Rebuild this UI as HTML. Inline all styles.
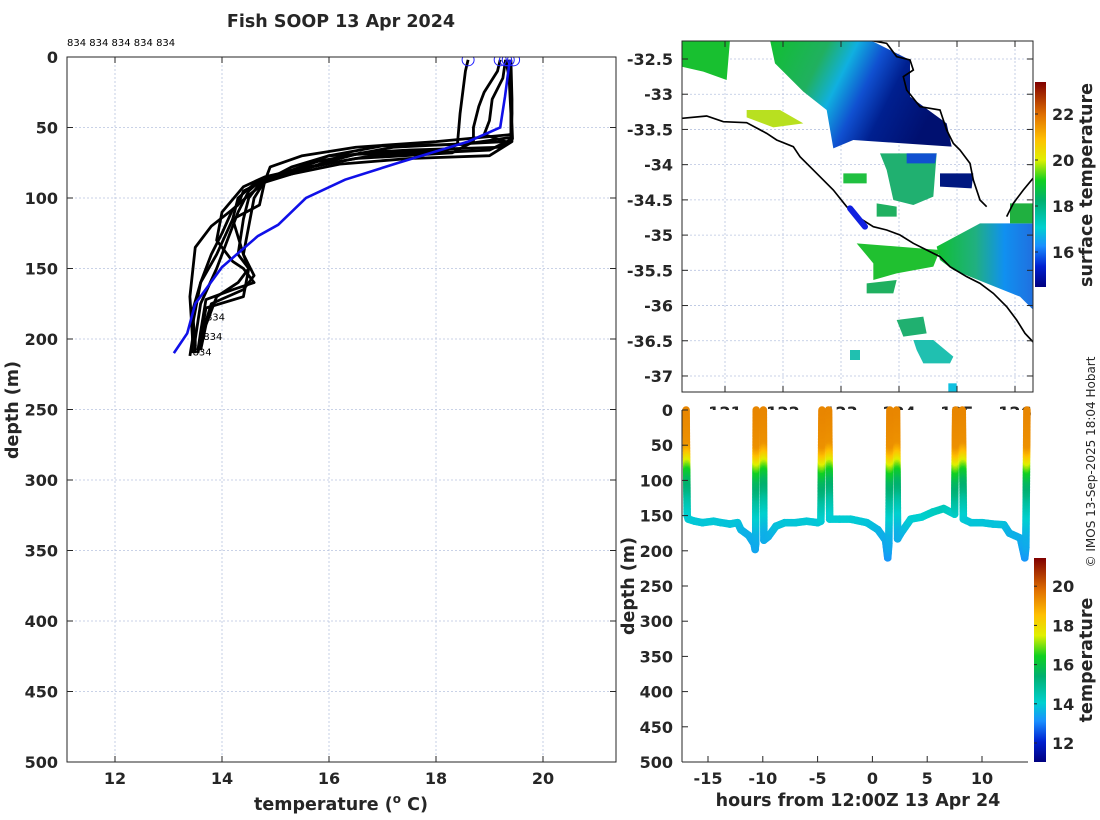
<!DOCTYPE html>
<html><head><meta charset="utf-8"><style>
html,body{margin:0;padding:0;background:#fff;}
svg{display:block;font-family:"DejaVu Sans","Liberation Sans",sans-serif;}
.tk{font-size:16px;font-weight:bold;fill:#262626;}
.ttl{font-size:17.5px;font-weight:bold;fill:#262626;}
.grid{stroke:#b8c4e0;stroke-width:0.8;stroke-dasharray:2,2;}
</style></head><body>
<svg id="fig" width="1100" height="820" viewBox="0 0 1100 820">
<defs>
<linearGradient id="cmap" x1="0" y1="1" x2="0" y2="0">
<stop offset="0" stop-color="#00007f"/><stop offset="0.1" stop-color="#0020d0"/>
<stop offset="0.2" stop-color="#1a8fff"/><stop offset="0.29" stop-color="#00d0d0"/>
<stop offset="0.42" stop-color="#00b070"/><stop offset="0.52" stop-color="#10d020"/>
<stop offset="0.62" stop-color="#e0f000"/><stop offset="0.72" stop-color="#ffc000"/>
<stop offset="0.84" stop-color="#e07000"/><stop offset="1" stop-color="#800000"/>
</linearGradient>
<linearGradient id="sstA" x1="0" y1="0" x2="1" y2="0.3">
<stop offset="0" stop-color="#10c030"/><stop offset="0.3" stop-color="#20b060"/>
<stop offset="0.45" stop-color="#10b0e0"/><stop offset="0.6" stop-color="#1050d0"/>
<stop offset="0.75" stop-color="#002090"/><stop offset="1" stop-color="#001070"/>
</linearGradient>
<linearGradient id="sstB" x1="0" y1="0" x2="1" y2="0">
<stop offset="0" stop-color="#10c030"/><stop offset="0.4" stop-color="#20b080"/>
<stop offset="0.7" stop-color="#1090f0"/><stop offset="1" stop-color="#2070e0"/>
</linearGradient>
<clipPath id="mapclip"><rect x="682" y="41" width="351" height="351"/></clipPath>
<clipPath id="leftclip"><rect x="67" y="57" width="549" height="705"/></clipPath>
</defs>
<rect width="1100" height="820" fill="#fff"/>
<text x="341" y="27" text-anchor="middle" class="ttl">Fish SOOP 13 Apr 2024</text>
<text x="67" y="46" font-size="10" fill="#000">834 834 834 834 834</text>
<g id="left"></g>

<g id="map">
<g id="mapgrid"></g>
<g clip-path="url(#mapclip)">
<g transform="translate(620,30) scale(0.33333)">
<polygon fill="url(#sstA)" points="450,30 750,30 870,90 870,200 980,280 995,350 850,340 700,330 640,355 620,240 550,185 465,100"/>
<polygon fill="#18c030" points="185,30 330,30 320,150 250,125 185,110"/>
<polygon fill="#b8e020" points="380,240 480,240 550,280 460,292 380,262"/>
<polygon fill="#20b070" points="780,370 950,370 940,500 880,525 820,510 800,420"/>
<polygon fill="#1050d0" points="860,370 950,370 945,400 860,400"/>
<polygon fill="#001880" points="960,430 1060,430 1055,475 960,470"/>
<polygon fill="#20c040" points="670,430 740,430 740,460 670,460"/>
<polygon fill="#20b060" points="770,520 830,530 830,560 770,560"/>
<polygon fill="url(#sstB)" points="950,650 1080,580 1240,580 1240,840 1200,800 1100,760 1000,720 960,690"/>
<polygon fill="#20b040" points="1170,520 1240,520 1240,580 1170,580"/>
<polygon fill="#20c030" points="710,640 960,660 940,710 830,730 760,750 760,700"/>
<polygon fill="#20b060" points="740,760 830,750 820,790 740,790"/>
<polygon fill="#20b070" points="830,870 910,860 920,910 850,920"/>
<polygon fill="#20c0b0" points="880,930 940,930 1000,980 990,1000 910,1000 890,960"/>
<polygon fill="#20c0b0" points="690,960 720,960 720,990 690,990"/>
<polygon fill="#10c0e0" points="985,1060 1010,1060 1010,1085 985,1085"/>
<polyline fill="none" stroke="#000" stroke-width="5" points="185,265 260,258 310,275 380,278 440,310 470,330 520,350 540,380 570,410 600,440 640,480 680,530 720,565 760,590 800,600 840,615 880,640 920,660 960,680 990,710 1040,740 1080,760 1120,790 1160,830 1190,870 1215,910 1243,940"/>
<polyline fill="none" stroke="#000" stroke-width="5" points="745,30 800,40 830,80 870,90 880,120 850,140 860,180 900,230 960,240 980,300 1000,340 1020,360 1050,400 1060,450 1080,510 1100,530"/>
<polyline fill="none" stroke="#000" stroke-width="5" points="1160,560 1180,520 1210,480 1243,440"/>
<polyline fill="none" stroke="#1020e0" stroke-width="18" stroke-linecap="round" points="690,535 735,590"/>
</g>
</g>
<rect x="682" y="41" width="351" height="351" fill="none" stroke="#262626" stroke-width="1"/>
</g>
<g id="mapticks"></g>

<g id="bottom"></g>

<rect x="1035" y="82" width="11" height="205" fill="url(#cmap)"/>
<rect x="1034" y="558" width="12" height="204" fill="url(#cmap)"/>
<g id="cbars"></g>
<text transform="translate(1092,185) rotate(-90)" text-anchor="middle" class="ttl" font-size="16">surface temperature</text>
<text transform="translate(1092,660) rotate(-90)" text-anchor="middle" class="ttl" font-size="16">temperature</text>
<text transform="translate(1095,462) rotate(-90)" text-anchor="middle" font-size="12" fill="#262626">© IMOS 13-Sep-2025 18:04 Hobart</text>
</svg>
<script>
const leftXTicks=[12,14,16,18,20];
const leftYTicks=[0,50,100,150,200,250,300,350,400,450,500];
const prof1=[[19.35,2],[19.4,10],[19.42,40],[19.4,58],[19.2,64],[17.5,66],[16.6,68],[15.9,75],[15.3,83],[14.7,88],[14.5,95],[14.3,110],[14.1,130],[13.9,150],[13.6,175],[13.5,200],[13.5,210]];
const prof2=[[18.6,2],[18.55,10],[18.45,40],[18.4,62],[18.2,66],[16.0,70],[15.2,82],[14.6,90],[14.3,100],[14.2,115],[14.4,140],[14.5,150],[14.3,160],[13.9,170],[13.7,190],[13.6,208]];
const prof3=[[19.2,2],[19.15,10],[18.9,25],[18.8,35],[18.7,50],[18.7,60],[18.3,68],[16.5,72],[15.4,80],[14.8,88],[14.6,100],[14.5,120],[14.4,140],[14.6,155],[14.4,165],[13.8,175],[13.6,200],[13.55,210]];
const prof4=[[19.3,2],[19.25,15],[19.05,30],[19.0,45],[18.9,55],[19.3,60],[17.2,64],[15.8,74],[15.0,84],[14.4,95],[14.3,105],[13.8,120],[13.5,135],[13.4,170],[13.45,200],[13.4,212]];
const prof5=[[19.4,2],[19.42,30],[19.41,57],[18.5,62],[17.0,63],[16.0,70],[15.3,78],[14.9,86],[14.5,98],[14.2,108],[14.0,125],[13.8,140],[13.6,160],[13.45,180],[13.5,205]];
const prof6=[[19.38,2],[19.4,30],[19.43,58],[19.0,66],[16.8,70],[15.6,78],[14.8,85],[14.4,92],[14.0,110],[13.9,130],[14.2,145],[14.4,150],[14.6,160],[14.2,165],[13.7,172],[13.6,195],[13.55,208]];
const prof7=[[19.3,2],[19.4,20],[19.42,60],[19.0,70],[17.5,72],[16.2,76],[15.3,83],[14.7,90],[14.5,100],[14.4,115],[14.3,140],[14.5,150],[14.4,170],[13.7,178],[13.6,200]];
const prof8=[[19.35,2],[19.4,40],[19.4,55],[18.0,60],[16.5,64],[15.5,70],[14.9,78],[14.8,88],[14.7,105],[14.2,115],[13.9,140],[13.6,160],[13.45,190],[13.45,210]];
const meanTemp=[19.38,19.29,19.2,18.6,17.3,16.3,15.57,15.05,14.67,14.0,13.5,13.35,13.1];
const meanDepth=[2,28,50,60,75,87,100,119,127,149,175,196,210];
const surfT=[18.6,19.2,19.3,19.35,19.45];
const endLabels=[[13.7,184],[13.65,198],[13.45,209]];
const latTicks=[-32.5,-33,-33.5,-34,-34.5,-35,-35.5,-36,-36.5,-37];
const lonTicks=[121,122,123,124,125,126];
const sstTicks=[16,18,20,22];
const hourTicks=[-15,-10,-5,0,5,10];
const depthTicks=[0,50,100,150,200,250,300,350,400,450,500];
const tempTicks=[12,14,16,18,20];
const trackT=[-17.0,-16.9,-16.8,-16.2,-15.5,-14.5,-13.8,-13.0,-12.3,-12.0,-11.3,-10.8,-10.7,-10.65,-10.6,null,-9.95,-9.9,-9.5,-8.8,-8.0,-7.0,-6.0,-5.0,-4.7,-4.6,null,-4.0,-3.9,-3.0,-2.0,-0.5,0.5,1.2,1.4,1.5,1.6,null,2.2,2.3,2.6,3.5,4.5,5.5,6.5,7.5,7.6,null,8.2,8.3,9.0,10.0,11.0,12.0,12.5,13.5,13.9,14.0,14.1];
const trackD=[0,150,155,158,160,158,160,162,160,170,178,190,198,190,0,null,0,185,180,165,160,160,158,160,158,0,null,0,155,155,155,160,170,185,210,190,0,null,0,183,175,155,152,145,140,148,0,null,0,155,160,160,162,163,175,182,210,195,0];

const NS='http://www.w3.org/2000/svg';
function mk(parent,tag,attrs){const e=document.createElementNS(NS,tag);for(const k in attrs)e.setAttribute(k,attrs[k]);parent.appendChild(e);return e;}
const stops=[[0,[0,0,127]],[0.1,[0,32,208]],[0.2,[26,143,255]],[0.29,[0,208,208]],[0.42,[0,176,112]],[0.52,[16,208,32]],[0.62,[224,240,0]],[0.72,[255,192,0]],[0.84,[224,112,0]],[1,[128,0,0]]];
function cmap(f){f=Math.max(0,Math.min(1,f));for(let i=1;i<stops.length;i++){if(f<=stops[i][0]){const a=stops[i-1],b=stops[i],u=(f-a[0])/(b[0]-a[0]);return 'rgb('+a[1].map((v,j)=>Math.round(v+(b[1][j]-v)*u)).join(',')+')';}}return 'rgb(128,0,0)';}

const L=document.getElementById('left');
const lx=t=>115+(t-12)*53.5, ly=d=>57+d*1.41;
leftXTicks.forEach(t=>{const g=mk(L,'line',{x1:lx(t),x2:lx(t),y1:57,y2:762,class:'grid'});

const tx=mk(L,'text',{x:lx(t),y:784,'text-anchor':'middle',class:'tk'});tx.textContent=t;

mk(L,'line',{x1:lx(t),x2:lx(t),y1:762,y2:756,stroke:'#262626'});mk(L,'line',{x1:lx(t),x2:lx(t),y1:57,y2:63,stroke:'#262626'});});
leftYTicks.forEach(d=>{const g=mk(L,'line',{x1:67,x2:616,y1:ly(d),y2:ly(d),class:'grid'});

const tx=mk(L,'text',{x:58,y:ly(d)+6,'text-anchor':'end',class:'tk'});tx.textContent=d;

mk(L,'line',{x1:67,x2:73,y1:ly(d),y2:ly(d),stroke:'#262626'});mk(L,'line',{x1:616,x2:610,y1:ly(d),y2:ly(d),stroke:'#262626'});});
const PL=mk(L,'g',{'clip-path':'url(#leftclip)'});
[prof1,prof2,prof3,prof4,prof5,prof6,prof7,prof8].forEach((p,i)=>{
const e=mk(PL,'polyline',{points:p.map(q=>lx(q[0])+','+ly(q[1])).join(' '),fill:'none',stroke:'#000','stroke-width':2.8,'stroke-linejoin':'round'});
});
const mline=mk(PL,'polyline',{points:meanTemp.map((t,i)=>lx(t)+','+ly(meanDepth[i])).join(' '),fill:'none',stroke:'#1010e8','stroke-width':2.6});

surfT.forEach(t=>{const c=mk(PL,'circle',{cx:lx(t),cy:ly(2),r:6,fill:'none',stroke:'#2020ff','stroke-width':1});
});
endLabels.forEach(p=>{const tx=mk(L,'text',{x:lx(p[0]),y:ly(p[1])+4,'font-size':10,fill:'#000'});tx.textContent='834';
});
mk(L,'rect',{x:67,y:57,width:549,height:705,fill:'none',stroke:'#262626'});
const xt=mk(L,'text',{x:341,y:810,'text-anchor':'middle',class:'ttl'});xt.innerHTML='temperature (<tspan font-size="12" dy="-7">o</tspan><tspan dy="7"> C)</tspan>';

const yt=mk(L,'text',{transform:'translate(18,410) rotate(-90)','text-anchor':'middle',class:'ttl'});yt.textContent='depth (m)';


const MG=document.getElementById('mapgrid'),MT=document.getElementById('mapticks');
const mx=lo=>725+(lo-121)*58, my=la=>59+(-32.5-la)*70.44;
latTicks.forEach(la=>{mk(MG,'line',{x1:682,x2:1033,y1:my(la),y2:my(la),class:'grid'});
mk(MT,'line',{x1:682,x2:688,y1:my(la),y2:my(la),stroke:'#262626'});mk(MT,'line',{x1:1033,x2:1027,y1:my(la),y2:my(la),stroke:'#262626'});
const tx=mk(MT,'text',{x:673,y:my(la)+6,'text-anchor':'end',class:'tk'});tx.textContent=la;
});
lonTicks.forEach(lo=>{mk(MG,'line',{x1:mx(lo),x2:mx(lo),y1:41,y2:392,class:'grid'});
mk(MT,'line',{x1:mx(lo),x2:mx(lo),y1:392,y2:386,stroke:'#262626'});mk(MT,'line',{x1:mx(lo),x2:mx(lo),y1:41,y2:47,stroke:'#262626'});
const tx=mk(MT,'text',{x:mx(lo),y:418,'text-anchor':'middle',class:'tk'});tx.textContent=lo;
});

const B=document.getElementById('bottom');
const bx=h=>708+(h+15)*10.96, by=d=>410+d*0.704;
mk(B,'rect',{x:682,y:410,width:346,height:352,fill:'#fff'});
function tempAt(d){if(d<=meanDepth[0])return meanTemp[0];for(let i=1;i<meanDepth.length;i++){if(d<=meanDepth[i]){const u=(d-meanDepth[i-1])/(meanDepth[i]-meanDepth[i-1]);return meanTemp[i-1]+u*(meanTemp[i]-meanTemp[i-1]);}}return meanTemp[meanTemp.length-1];}
const TG=mk(B,'g',{});

for(let i=1;i<trackT.length;i++){
if(trackT[i]===null||trackT[i-1]===null)continue;
const x0=bx(trackT[i-1]),y0=by(trackD[i-1]),x1=bx(trackT[i]),y1=by(trackD[i]);
const n=Math.max(1,Math.ceil(Math.hypot(x1-x0,y1-y0)/1.5));
for(let k=0;k<=n;k++){const u=k/n,d=trackD[i-1]+u*(trackD[i]-trackD[i-1]);
mk(TG,'circle',{cx:x0+u*(x1-x0),cy:y0+u*(y1-y0),r:3.8,fill:cmap((tempAt(d)-10.9)/10.5)});}}
hourTicks.forEach(h=>{mk(B,'line',{x1:bx(h),x2:bx(h),y1:762,y2:756,stroke:'#262626'});
const tx=mk(B,'text',{x:bx(h),y:784,'text-anchor':'middle',class:'tk'});tx.textContent=h;
});
depthTicks.forEach(d=>{mk(B,'line',{x1:682,x2:688,y1:by(d),y2:by(d),stroke:'#262626'});
const tx=mk(B,'text',{x:673,y:by(d)+6,'text-anchor':'end',class:'tk'});tx.textContent=d;
});
mk(B,'line',{x1:682,x2:682,y1:410,y2:762,stroke:'#262626'});
mk(B,'line',{x1:682,x2:1028,y1:762,y2:762,stroke:'#262626'});
const bxt=mk(B,'text',{x:858,y:806,'text-anchor':'middle',class:'ttl'});bxt.textContent='hours from 12:00Z 13 Apr 24';

const byt=mk(B,'text',{transform:'translate(634,586) rotate(-90)','text-anchor':'middle',class:'ttl'});byt.textContent='depth (m)';


const C=document.getElementById('cbars');
sstTicks.forEach(v=>{const y=252+(16-v)*23;mk(C,'line',{x1:1035,x2:1038,y1:y,y2:y,stroke:'#262626'});
const tx=mk(C,'text',{x:1052,y:y+6,class:'tk'});tx.textContent=v;
});
tempTicks.forEach(v=>{const y=743-(v-12)*19.6;mk(C,'line',{x1:1034,x2:1037,y1:y,y2:y,stroke:'#262626'});
const tx=mk(C,'text',{x:1052,y:y+6,class:'tk'});tx.textContent=v;
});
</script>
</body></html>
